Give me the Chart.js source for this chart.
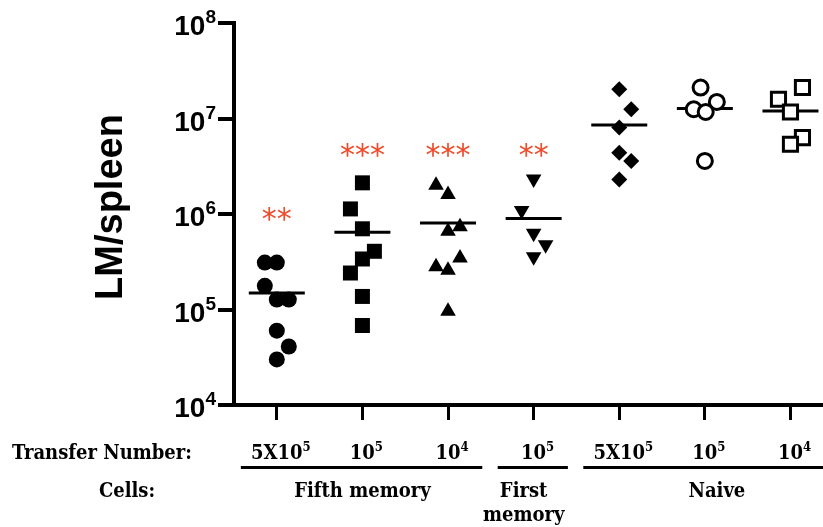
<!DOCTYPE html>
<html>
<head>
<meta charset="utf-8">
<script src="https://cdn.jsdelivr.net/npm/chart.js@4.4.1/dist/chart.umd.min.js"></script>
<style>
  html, body { margin: 0; padding: 0; background: #fff; }
  canvas { display: block; }
</style>
</head>
<body>
<canvas id="myCanvas" width="823" height="527"></canvas>
<script>
'use strict';

// transfer number under each column, written as base + superscript
const transferBase = ['5X10', '10', '10', '10', '5X10', '10', '10'];
const transferExp = ['5', '5', '4', '5', '5', '5', '4'];

// cell groups and the columns they span
const cellNames = [['Fifth memory'], ['First', 'memory'], ['Naive']];
const cellFirst = [0, 3, 4];
const cellLast = [2, 3, 6];

const yTicks = [1e4, 1e5, 1e6, 1e7, 1e8];

// LM per spleen, one array per column (jitter = sideways spread, in columns)
const fifth5x105 = [3.1e5, 3.1e5, 1.77e5, 1.27e5, 1.27e5, 6.0e4, 4.1e4, 3.0e4];
const fifth5x105Jitter = [-0.14, 0, -0.14, 0, 0.14, 0, 0.14, 0];
const fifth105 = [2.12e6, 1.13e6, 7.0e5, 4.07e5, 3.38e5, 2.41e5, 1.37e5, 6.8e4];
const fifth105Jitter = [0, -0.14, 0, 0.14, 0, -0.14, 0, 0];
const fifth104 = [2.0e6, 1.6e6, 7.35e5, 6.6e5, 3.47e5, 2.8e5, 2.57e5, 9.6e4];
const fifth104Jitter = [-0.14, 0, 0.14, 0, 0.14, -0.14, 0, 0];
const first105 = [2.33e6, 1.09e6, 6.3e5, 4.77e5, 3.57e5];
const first105Jitter = [0, -0.14, 0, 0.14, 0];
const naive5x105 = [2.03e7, 1.25e7, 8.04e6, 4.39e6, 3.59e6, 2.30e6];
const naive5x105Jitter = [0, 0.14, 0, 0, 0.14, 0];
const naive105 = [2.11e7, 1.49e7, 1.25e7, 1.17e7, 3.59e6];
const naive105Jitter = [-0.05, 0.14, -0.13, 0.01, 0];
const naive104 = [2.11e7, 1.59e7, 1.17e7, 6.31e6, 5.37e6];
const naive104Jitter = [0.14, -0.14, 0, 0.14, 0];

// group summary lines
const medians = [1.49e5, 6.44e5, 8.07e5, 8.97e5, 8.57e6, 1.27e7, 1.20e7];

// significance marks
const stars = ['**', '***', '***', '**', '', '', ''];
const starLevel = [9.6e5, 4.5e6, 4.5e6, 4.5e6, null, null, null];

function toPoints(col, values, jitter) {
  return values.map((v, i) => ({ x: col + jitter[i], y: v }));
}

function markers(col, values, jitter, style, radius, filled, rotation) {
  return {
    data: toPoints(col, values, jitter),
    pointStyle: style,
    pointRadius: radius,
    pointRotation: rotation || 0,
    pointBackgroundColor: filled ? '#000' : '#fff',
    pointBorderColor: '#000',
    pointBorderWidth: filled ? 0 : 3,
    showLine: false
  };
}

const myDatasets = [
  markers(0, fifth5x105, fifth5x105Jitter, 'circle', 8, true),
  markers(1, fifth105, fifth105Jitter, 'rect', 10.6, true),
  markers(2, fifth104, fifth104Jitter, 'triangle', 9, true),
  markers(3, first105, first105Jitter, 'triangle', 9, true, 180),
  markers(4, naive5x105, naive5x105Jitter, 'rectRot', 8, true),
  markers(5, naive105, naive105Jitter, 'circle', 7.5, false),
  markers(6, naive104, naive104Jitter, 'rect', 10, false),
  {
    data: medians.map((v, i) => ({ x: i, y: v })),
    pointStyle: 'line',
    pointRadius: 28,
    pointBorderColor: '#000',
    pointBorderWidth: 3,
    showLine: false
  }
];

function drawSup(ctx, base, exp, x, y, baseFont, supFont, rise) {
  ctx.font = baseFont;
  const wb = ctx.measureText(base).width;
  ctx.font = supFont;
  const we = ctx.measureText(exp).width;
  const left = x - (wb + we) / 2;
  ctx.textAlign = 'left';
  ctx.font = baseFont;
  ctx.fillText(base, left, y);
  ctx.font = supFont;
  ctx.fillText(exp, left + wb, y - rise);
}

const labelPlugin = {
  id: 'labelPlugin',
  afterDraw(chart) {
    const ctx = chart.ctx;
    const xs = chart.scales.x;
    const ys = chart.scales.y;
    ctx.save();
    ctx.fillStyle = '#000';
    ctx.textBaseline = 'alphabetic';

    // y tick labels 10^n
    for (const v of yTicks) {
      const py = ys.getPixelForValue(v);
      const exp = String(Math.round(Math.log10(v)));
      ctx.textAlign = 'right';
      ctx.font = 'bold 19px "Liberation Sans", Arial, sans-serif';
      ctx.fillText(exp, 216, py);
      const w = ctx.measureText(exp).width;
      ctx.font = 'bold 28px "Liberation Sans", Arial, sans-serif';
      ctx.fillText('10', 216 - w, py + 12);
    }

    // y title
    ctx.save();
    ctx.translate(122, 207);
    ctx.rotate(-Math.PI / 2);
    ctx.textAlign = 'center';
    ctx.font = 'bold 38px "Liberation Sans", Arial, sans-serif';
    ctx.fillText('LM/spleen', 0, 0);
    ctx.restore();

    // significance stars
    ctx.fillStyle = '#ee4b2b';
    ctx.textAlign = 'center';
    ctx.textBaseline = 'middle';
    ctx.font = '30px "DejaVu Sans", sans-serif';
    stars.forEach((s, i) => {
      if (!s) return;
      ctx.fillText(s, xs.getPixelForValue(i), ys.getPixelForValue(starLevel[i]) + 6);
    });

    // bottom annotation rows
    const serifBold = 'bold 20px "DejaVu Serif Condensed", "DejaVu Serif", serif';
    const serifSup = 'bold 13px "DejaVu Serif Condensed", "DejaVu Serif", serif';
    ctx.fillStyle = '#000';
    ctx.textBaseline = 'alphabetic';
    ctx.textAlign = 'left';
    ctx.font = serifBold;
    ctx.fillText('Transfer Number:', 12, 459);
    ctx.textAlign = 'center';
    ctx.fillText('Cells:', 127, 497);

    transferBase.forEach((b, i) => {
      drawSup(ctx, b, transferExp[i], xs.getPixelForValue(i) + 4, 459, serifBold, serifSup, 8);
    });

    // small nudges so the group names sit where the original puts them
    const nameNudge = [0, -10, 12];
    ctx.strokeStyle = '#000';
    ctx.lineWidth = 3;
    cellNames.forEach((lines, k) => {
      const x0 = xs.getPixelForValue(cellFirst[k] - 0.42);
      const x1 = xs.getPixelForValue(cellLast[k] + 0.4);
      ctx.beginPath();
      ctx.moveTo(x0, 467.5);
      ctx.lineTo(x1, 467.5);
      ctx.stroke();
      const cx = xs.getPixelForValue((cellFirst[k] + cellLast[k]) / 2) + nameNudge[k];
      ctx.textAlign = 'center';
      ctx.font = serifBold;
      lines.forEach((t, j) => ctx.fillText(t, cx, 497 + j * 24));
    });
    ctx.restore();
  }
};

const config = {
  type: 'scatter',
  data: { datasets: myDatasets },
  options: {
    responsive: false,
    animation: false,
    devicePixelRatio: 1,
    layout: { autoPadding: false, padding: { top: 23, right: 0, bottom: 0, left: 0 } },
    plugins: { legend: { display: false }, tooltip: { enabled: false } },
    scales: {
      x: {
        type: 'linear',
        min: -0.5,
        max: 6.38,
        afterBuildTicks: (scale) => { scale.ticks = [0, 1, 2, 3, 4, 5, 6].map(v => ({ value: v })); },
        afterFit: (scale) => { scale.height = 122; },
        ticks: { display: false },
        grid: { drawOnChartArea: false, drawTicks: true, tickLength: 15, lineWidth: 3, color: '#000' },
        border: { display: true, color: '#000', width: 4 }
      },
      y: {
        type: 'logarithmic',
        min: 1e4,
        max: 1e8,
        afterBuildTicks: (scale) => { scale.ticks = yTicks.map(v => ({ value: v })); },
        afterFit: (scale) => { scale.width = 234; },
        ticks: { display: false },
        grid: { drawOnChartArea: false, drawTicks: true, tickLength: 16, lineWidth: 4, color: '#000' },
        border: { display: true, color: '#000', width: 4 }
      }
    }
  },
  plugins: [labelPlugin]
};

const chart = document.getElementById('myCanvas');
const myChart = new Chart(chart, config);
</script>
</body>
</html>
